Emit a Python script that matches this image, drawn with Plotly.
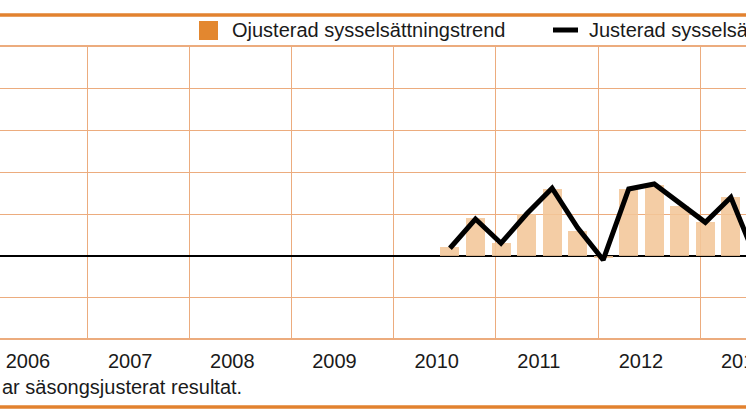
import plotly.graph_objects as go

# quarterly series (2010 Q3 onwards), procent
years = [2010, 2010, 2011, 2011, 2011, 2011, 2012, 2012, 2012, 2012, 2013, 2013, 2013]
quarters = [3, 4, 1, 2, 3, 4, 1, 2, 3, 4, 1, 2, 3]
ojusterad = [0.2, 0.9, 0.3, 1.0, 1.6, 0.6, -0.05, 1.6, 1.7, 1.2, 0.8, 1.4, None]
justerad = [0.18, 0.88, 0.3, 1.0, 1.62, 0.67, -0.1, 1.6, 1.72, 1.25, 0.8, 1.4, -0.1]

year_labels = ['2006', '2007', '2008', '2009', '2010', '2011', '2012', '2013']
legend_bar = 'Ojusterad sysselsättningstrend'
legend_line = 'Justerad sysselsättningstrend'
footnote = 'ar säsongsjusterat resultat.'

ORANGE = '#e2822f'
GRID = '#ecac7e'
BAR = 'rgba(242,198,152,0.88)'
FONT = 'Liberation Sans'

W, H = 746, 419
TOP, BOTTOM = 47, 338

x = [y + (q - 1) / 4 for y, q in zip(years, quarters)]
yrs = [int(t) for t in year_labels]


def py(p):
    # pixel row -> paper y
    return (BOTTOM - p) / (BOTTOM - TOP)


def px(p):
    return p / W


fig = go.Figure()
fig.add_trace(go.Bar(x=x, y=ojusterad, width=0.186, marker=dict(color=BAR, line=dict(width=0)),
                     showlegend=False))
fig.add_trace(go.Scatter(x=x, y=justerad, mode='lines', line=dict(color='black', width=5),
                         showlegend=False))
# invisible trace to carry the year-boundary grid axis
fig.add_trace(go.Scatter(x=[2006], y=[None], xaxis='x2', showlegend=False))

xr = [2006.096, 2013.398]
fig.update_layout(
    width=W, height=H,
    margin=dict(l=0, r=0, t=TOP, b=H - BOTTOM, autoexpand=False),
    plot_bgcolor='white', paper_bgcolor='white',
    font=dict(family=FONT, size=20, color='#1a1a1a'),
    bargap=0,
    xaxis=dict(range=xr, tickvals=[y + 0.37 for y in yrs], ticktext=year_labels,
               showgrid=False, zeroline=False, showline=True, linecolor=GRID, linewidth=1.5,
               mirror=True, ticks='', ticklabelstandoff=4, ticklabeloverflow='allow',
               automargin=False),
    xaxis2=dict(range=xr, overlaying='x', tickvals=[y - 0.05 for y in yrs + [2014]],
                showticklabels=False, showgrid=True, gridcolor=GRID, gridwidth=1.2,
                zeroline=False, automargin=False),
    yaxis=dict(range=[-1.97, 5], dtick=1, showticklabels=False, showgrid=True,
               gridcolor=GRID, gridwidth=1.2, zeroline=True, zerolinecolor='black',
               zerolinewidth=2, automargin=False),
)

shapes = [
    dict(type='line', xref='paper', yref='paper', x0=0, x1=1, y0=py(15), y1=py(15),
         line=dict(color=ORANGE, width=3.5)),
    dict(type='line', xref='paper', yref='paper', x0=0, x1=1, y0=py(407), y1=py(407),
         line=dict(color=ORANGE, width=3.5)),
    dict(type='rect', xref='paper', yref='paper', x0=px(199), x1=px(218), y0=py(40), y1=py(21),
         fillcolor='#e3872f', line=dict(width=0)),
    dict(type='line', xref='paper', yref='paper', x0=px(553), x1=px(578), y0=py(30), y1=py(30),
         line=dict(color='black', width=5)),
]
fig.update_layout(shapes=shapes)

fig.add_annotation(x=px(230), y=py(30), xref='paper', yref='paper', text=legend_bar,
                   showarrow=False, xanchor='left', yanchor='middle', font=dict(size=20))
fig.add_annotation(x=px(587), y=py(30), xref='paper', yref='paper', text=legend_line,
                   showarrow=False, xanchor='left', yanchor='middle', font=dict(size=20))
fig.add_annotation(x=0, y=py(387), xref='paper', yref='paper', text=footnote, xshift=0,
                   showarrow=False, xanchor='left', yanchor='middle', font=dict(size=20))

# drop the page's default body margin so the figure sits at the window corner
fig.write_html("out.html", config={'displayModeBar': False},
               post_script="document.body.style.margin='0';")
